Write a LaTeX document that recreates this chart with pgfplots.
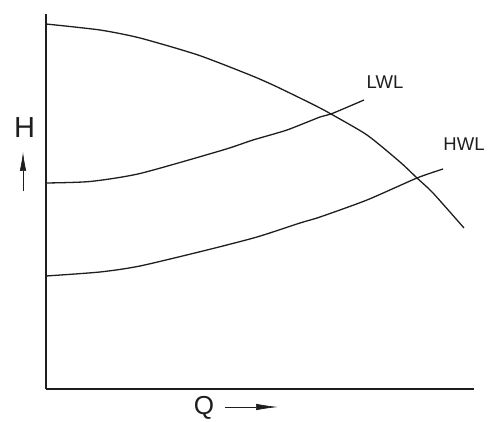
\documentclass[border=0pt]{standalone}
\usepackage{pgfplots}
\pgfplotsset{compat=1.18}
\usepackage{fontspec}
\setmainfont{Liberation Sans}
\usetikzlibrary{arrows.meta}
\definecolor{ink}{HTML}{1E1E1E}
\begin{document}
\begin{tikzpicture}[x=1pt,y=1pt]
\path[use as bounding box] (0,0) rectangle (493,421);
\begin{axis}[
  at={(46pt,32pt)}, anchor=origin,
  scale only axis, width=428pt, height=375pt,
  xmin=46, xmax=474, ymin=32, ymax=407,
  axis lines=left, axis line style={-, line width=1.3pt, ink},
  ticks=none, clip=false,
]
% pump curve
\addplot[ink, line width=1.3pt, smooth, tension=0.4] coordinates {
(46,397) (100,391) (140,383) (198,366) (250,346) (273,336) (300,323)
(320,313) (331,307) (367,286) (400,259) (417,243) (433,228) (464,193)};
% LWL system curve
\addplot[ink, line width=1.3pt, smooth, tension=0.4] coordinates {
(46,238) (90,239.5) (140,247.5) (223,271) (253,281) (287,291)
(320,304) (331,307) (364,321)};
% HWL system curve
\addplot[ink, line width=1.3pt, smooth, tension=0.4] coordinates {
(46,145) (100,149) (140,155) (207,171) (257,184) (300,198) (320,204)
(367,221) (417,243) (443,252)};
\node[font=\fontsize{18.5}{20}\selectfont, text=ink] at (axis cs:385,338.5) {LWL};
\node[font=\fontsize{18.5}{20}\selectfont, text=ink] at (axis cs:464,276.5) {HWL};
\node[font=\fontsize{29}{30}\selectfont, text=ink] at (axis cs:24.5,293) {H};
\node[font=\fontsize{26}{27}\selectfont, text=ink, anchor=base, inner sep=0pt] at (axis cs:204,6.5) {Q};
\draw[ink, line width=0.7pt, -{Latex[length=19pt,width=6.5pt]}] (axis cs:23,230) -- (axis cs:23,269);
\draw[ink, line width=0.7pt, -{Latex[length=22pt,width=6.5pt]}] (axis cs:225,14) -- (axis cs:278,14);
\end{axis}
\end{tikzpicture}
\end{document}
